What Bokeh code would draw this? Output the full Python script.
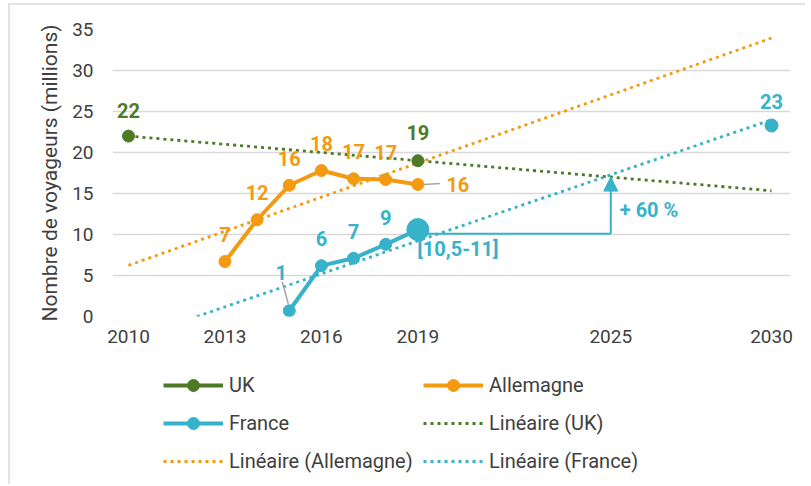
import numpy as np
from bokeh.plotting import figure
from bokeh.layouts import column
from bokeh.models import (ColumnDataSource, FixedTicker, Legend, LegendItem,
                          Arrow, NormalHead, Range1d)
from bokeh.core.properties import value
from bokeh.embed import file_html
from bokeh.resources import INLINE

# ---------------- data ----------------
uk_years = [2010, 2019]
uk_values = [22.0, 19.0]
uk_labels = ["22", "19"]

de_years = [2013, 2014, 2015, 2016, 2017, 2018, 2019]
de_values = [6.7, 11.8, 16.0, 17.8, 16.8, 16.7, 16.1]
de_labels = ["7", "12", "16", "18", "17", "17", "16"]

fr_years = [2015, 2016, 2017, 2018, 2019]
fr_values = [0.7, 6.2, 7.1, 8.8, 10.6]
fr_labels = ["1", "6", "7", "9", "[10,5-11]"]

fr_target_year = [2030]
fr_target_value = [23.3]
fr_target_label = ["23"]

trend_span = [2010, 2030]

arrow_x = [2019, 2025]
arrow_y = [10.1, 17.0]
arrow_text = "+ 60 %"
arrow_text_y = 13.0

x_ticks = [2010, 2013, 2016, 2019, 2025, 2030]
y_ticks = [0, 5, 10, 15, 20, 25, 30, 35]

legend_names = ["UK", "Allemagne", "France", "Linéaire (UK)",
                "Linéaire (Allemagne)", "Linéaire (France)"]
y_title = "Nombre de voyageurs (millions)"

# ---------------- style ----------------
GREEN = "#4E7A27"
ORANGE = "#F39A12"
TEAL = "#38B2C9"
GRID = "#d9d9d9"
TXT = "#404040"
FONT = "Roboto"
LBL_SIZE = "20px"

X0, X1 = 2009.502, 2030.59
FRAME_W, FRAME_H = 678, 287
XPP = (X1 - X0) / FRAME_W      # data units per px
YPP = 35.0 / FRAME_H

p = figure(width=795, height=347, x_range=Range1d(X0, X1), y_range=Range1d(0, 35),
           output_backend="svg", toolbar_location=None,
           min_border_left=102, min_border_right=15, min_border_top=24,
           min_border_bottom=36)
p.outline_line_color = None
p.background_fill_color = "white"
p.border_fill_color = "white"

p.xaxis.ticker = FixedTicker(ticks=x_ticks)
p.yaxis.ticker = FixedTicker(ticks=y_ticks)
for ax in (p.xaxis[0], p.yaxis[0]):
    ax.axis_line_color = None
    ax.major_tick_line_color = None
    ax.minor_tick_line_color = None
    ax.major_tick_out = 0
    ax.major_tick_in = 0
    ax.minor_tick_out = 0
    ax.major_label_text_font = FONT
    ax.major_label_text_font_size = "19px"
    ax.major_label_text_color = TXT
p.xaxis.major_label_standoff = 13
p.yaxis.major_label_standoff = 19
p.yaxis.axis_label = y_title
p.yaxis.axis_label_standoff = 7
p.yaxis.axis_label_text_font = FONT
p.yaxis.axis_label_text_font_size = "21px"
p.yaxis.axis_label_text_font_style = "normal"
p.yaxis.axis_label_text_color = TXT
p.xgrid.grid_line_color = None
p.ygrid.ticker = FixedTicker(ticks=y_ticks)
p.ygrid.grid_line_color = GRID
p.ygrid.grid_line_width = 1.5

# ---------------- trend lines ----------------
def trend(xs, ys):
    a, b = np.polyfit(xs, ys, 1)
    return a, b

DOT = "3 4"
a, b = trend(uk_years, uk_values)
uk_tr_y = [a * x + b for x in trend_span]
p.line(trend_span, uk_tr_y, line_color=GREEN, line_width=2.8, line_dash=DOT)
a, b = trend(de_years, de_values)
de_tr_y = [a * x + b for x in trend_span]
p.line(trend_span, de_tr_y, line_color=ORANGE, line_width=2.8, line_dash=DOT)
a, b = trend(fr_years + fr_target_year, fr_values + fr_target_value)
fx0 = max(trend_span[0], -b / a)
fr_span = [fx0, trend_span[1]]
fr_tr_y = [max(0.0, a * x + b) for x in fr_span]
p.line(fr_span, fr_tr_y, line_color=TEAL, line_width=2.8, line_dash=DOT)

# ---------------- arrow annotation ----------------
p.line(arrow_x, [arrow_y[0], arrow_y[0]], line_color=TEAL, line_width=2)
p.add_layout(Arrow(x_start=arrow_x[1], y_start=arrow_y[0], x_end=arrow_x[1], y_end=arrow_y[1],
                   line_color=TEAL, line_width=2,
                   end=NormalHead(size=14, fill_color=TEAL, line_color=TEAL)))
p.text([arrow_x[1]], [arrow_text_y], text=[arrow_text], x_offset=9,
       text_align="left", text_baseline="middle", text_color=TEAL,
       text_font=value(FONT), text_font_style="bold", text_font_size=LBL_SIZE)

# ---------------- leader lines ----------------
p.segment(x0=[de_years[-1] + 6 * XPP], y0=[de_values[-1]],
          x1=[de_years[-1] + 22 * XPP], y1=[de_values[-1] + 1 * YPP],
          line_color="#a6a6a6", line_width=1.5)
p.segment(x0=[fr_years[0] - 7 * XPP], y0=[fr_values[0] + 29 * YPP],
          x1=[fr_years[0] - 1 * XPP], y1=[fr_values[0] + 7 * YPP],
          line_color="#a6a6a6", line_width=1.5)

# ---------------- series ----------------
p.scatter(uk_years, uk_values, size=12, color=GREEN)
p.line(de_years, de_values, line_color=ORANGE, line_width=4)
p.scatter(de_years, de_values, size=12, color=ORANGE)
p.line(fr_years, fr_values, line_color=TEAL, line_width=4)
p.scatter(fr_years[:-1], fr_values[:-1], size=12, color=TEAL)
p.scatter(fr_years[-1:], fr_values[-1:], size=22, color=TEAL)
p.scatter(fr_target_year, fr_target_value, size=13, color=TEAL)

# ---------------- data labels ----------------
def labels(xs, ys, texts, color, xo, yo):
    src = ColumnDataSource(dict(x=xs, y=ys, t=texts, xo=xo, yo=yo))
    p.text("x", "y", text="t", source=src, x_offset="xo", y_offset="yo",
           text_align="center", text_baseline="middle", text_color=color,
           text_font=value(FONT), text_font_style="bold", text_font_size=LBL_SIZE)

labels(uk_years, uk_values, uk_labels, GREEN, [0, 0], [-26, -28])
de_xo = [0] * len(de_years); de_yo = [-27] * len(de_years)
de_xo[-1] = 40; de_yo[-1] = 0
labels(de_years, de_values, de_labels, ORANGE, de_xo, de_yo)
fr_xo = [0] * len(fr_years); fr_yo = [-27] * len(fr_years)
fr_xo[0], fr_yo[0] = -8, -38
fr_xo[-1], fr_yo[-1] = 40, 19
labels(fr_years, fr_values, fr_labels, TEAL, fr_xo, fr_yo)
labels(fr_target_year, fr_target_value, fr_target_label, TEAL, [0], [-24])

# ---------------- legend (separate strip below) ----------------
lg = figure(width=795, height=132, x_range=Range1d(0, 1), y_range=Range1d(0, 1),
            output_backend="svg", toolbar_location=None,
            x_axis_type=None, y_axis_type=None,
            min_border_left=0, min_border_right=0, min_border_top=0, min_border_bottom=0)
lg.outline_line_color = None
lg.background_fill_color = "white"
lg.border_fill_color = "white"
# series drawn with real data; they fall outside this strip's ranges (legend keys only)
l_uk = [lg.line(uk_years, uk_values, line_color=GREEN, line_width=4),
        lg.scatter(uk_years, uk_values, size=12, color=GREEN)]
l_de = [lg.line(de_years, de_values, line_color=ORANGE, line_width=4),
        lg.scatter(de_years, de_values, size=12, color=ORANGE)]
l_fr = [lg.line(fr_years, fr_values, line_color=TEAL, line_width=4),
        lg.scatter(fr_years, fr_values, size=12, color=TEAL)]
l_uk_tr = [lg.line(trend_span, uk_tr_y, line_color=GREEN, line_width=2.8, line_dash=DOT)]
l_de_tr = [lg.line(trend_span, de_tr_y, line_color=ORANGE, line_width=2.8, line_dash=DOT)]
l_fr_tr = [lg.line(fr_span, fr_tr_y, line_color=TEAL, line_width=2.8, line_dash=DOT)]

items = [
    LegendItem(label=legend_names[0], renderers=l_uk),
    LegendItem(label=legend_names[2], renderers=l_fr),
    LegendItem(label=legend_names[4], renderers=l_de_tr),
    LegendItem(label=legend_names[1], renderers=l_de),
    LegendItem(label=legend_names[3], renderers=l_uk_tr),
    LegendItem(label=legend_names[5], renderers=l_fr_tr),
]
legend = Legend(items=items, ncols=2, location=(51, 8),
                glyph_width=60, glyph_height=30, label_height=30, label_width=186,
                label_standoff=6, spacing=8, padding=0, margin=0,
                border_line_color=None, background_fill_alpha=0,
                label_text_font=FONT, label_text_font_size="20px",
                label_text_color=TXT)
lg.add_layout(legend, "center")

layout = column(p, lg, spacing=0)
layout.styles = {"position": "relative", "left": "8px", "top": "3px",
                 "border-top": "2px solid #e3e3e3", "border-left": "2px solid #e3e3e3"}
open("out.html", "w").write(file_html(layout, INLINE))
